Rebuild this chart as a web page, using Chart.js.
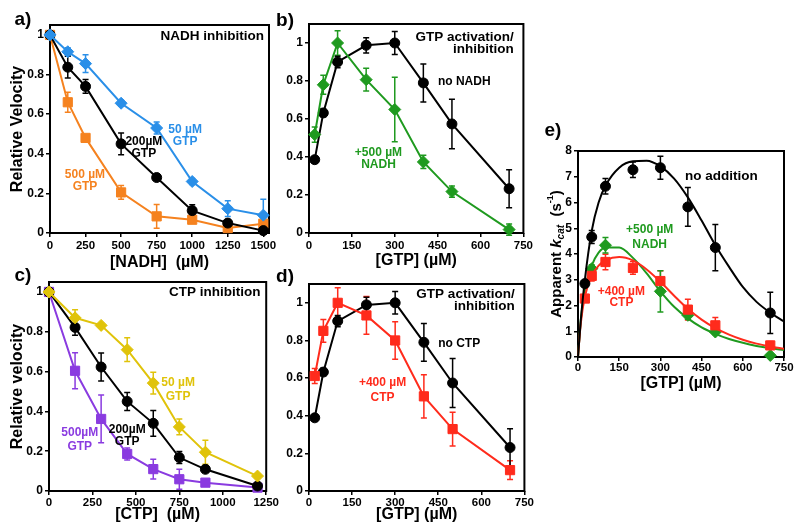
<!DOCTYPE html>
<html>
<head>
<meta charset="utf-8">
<script src="https://cdn.jsdelivr.net/npm/chart.js@4.4.0/dist/chart.umd.min.js"></script>
<style>
body { margin: 0; background: #fff; }
#wrap { position: relative; width: 800px; height: 531px; overflow: hidden; }
canvas { position: absolute; }
</style>
</head>
<body>
<div id="wrap">
<canvas id="chartA" width="280" height="275" style="left:0;top:0"></canvas>
<canvas id="chartB" width="265" height="275" style="left:270px;top:0"></canvas>
<canvas id="chartC" width="280" height="266" style="left:0;top:265px"></canvas>
<canvas id="chartD" width="265" height="266" style="left:270px;top:265px"></canvas>
<canvas id="chartE" width="265" height="280" style="left:530px;top:115px"></canvas>
</div>
<script>
// tick labels
var nadhTicks = [0, 250, 500, 750, 1000, 1250, 1500]
var ctpTicks = [0, 250, 500, 750, 1000, 1250]
var gtpTicks = [0, 150, 300, 450, 600, 750]
var relTicks = [0, 0.2, 0.4, 0.6, 0.8, 1]
var kcatTicks = [0, 1, 2, 3, 4, 5, 6, 7, 8]

// a) NADH inhibition at three GTP levels
var nadhConc = [0, 125, 250, 500, 750, 1000, 1250, 1500]
var a50 = [1, 0.915, 0.855, 0.655, 0.53, 0.26, 0.123, 0.09]
var a50Err = [0, 0.02, 0.045, 0.015, 0.03, 0.015, 0.04, 0.08]
var a200 = [1, 0.837, 0.74, 0.45, 0.28, 0.113, 0.05, 0.012]
var a200Err = [0, 0.055, 0.035, 0.055, 0.015, 0.03, 0.015, 0.01]
var a500 = [1, 0.66, 0.48, 0.205, 0.084, 0.067, 0.025, 0.047]
var a500Err = [0, 0.05, 0.015, 0.035, 0.06, 0.015, 0.015, 0.01]

// b) and d) GTP activation / inhibition
var gtpConc = [20, 50, 100, 200, 300, 400, 500, 700]
var bNoNadh = [0.386, 0.632, 0.9, 0.988, 1.0, 0.79, 0.574, 0.233]
var bNoNadhErr = [0.01, 0.02, 0.03, 0.04, 0.06, 0.1, 0.13, 0.1]
var bNadh = [0.518, 0.78, 1.0, 0.807, 0.65, 0.374, 0.218, 0.018]
var bNadhErr = [0.04, 0.05, 0.065, 0.06, 0.17, 0.035, 0.03, 0.03]
var dNoCtp = [0.389, 0.632, 0.903, 0.989, 1.0, 0.79, 0.574, 0.231]
var dNoCtpErr = [0.01, 0.02, 0.03, 0.04, 0.06, 0.1, 0.13, 0.1]
var dCtp = [0.611, 0.851, 1.0, 0.933, 0.8, 0.503, 0.329, 0.111]
var dCtpErr = [0.04, 0.06, 0.08, 0.1, 0.1, 0.115, 0.09, 0.05]

// c) CTP inhibition at three GTP levels
var ctpConc = [0, 150, 300, 450, 600, 750, 900, 1200]
var c50 = [1, 0.87, 0.832, 0.71, 0.542, 0.322, 0.195, 0.075]
var c50Err = [0, 0.04, 0.01, 0.06, 0.055, 0.04, 0.06, 0.01]
var c200 = [1, 0.822, 0.623, 0.45, 0.34, 0.168, 0.109, 0.025]
var c200Err = [0, 0.04, 0.07, 0.045, 0.065, 0.03, 0.01, 0.01]
var c500 = [1, 0.604, 0.362, 0.186, 0.11, 0.059, 0.042, 0.017]
var c500Err = [0, 0.09, 0.12, 0.03, 0.05, 0.05, 0.01, 0.01]

// e) apparent kcat, points and fitted curves
var eGtp = [25, 50, 100, 200, 300, 400, 500, 700]
var eNone = [2.85, 4.66, 6.63, 7.27, 7.35, 5.83, 4.25, 1.71]
var eNoneErr = [0.1, 0.25, 0.3, 0.3, 0.45, 0.75, 0.9, 0.8]
var eGtpNadh = [50, 100, 300, 400, 500, 700]
var eNadh = [3.43, 4.34, 2.55, 1.62, 0.97, 0.06]
var eNadhErr = [0.15, 0.3, 0.8, 0.15, 0.1, 0.05]
var eCtp = [2.27, 3.15, 3.69, 3.46, 2.95, 1.84, 1.23, 0.45]
var eCtpErr = [0.1, 0.2, 0.3, 0.25, 0.4, 0.4, 0.3, 0.15]
var fitGtp = [0, 10, 25, 50, 75, 100, 150, 200, 250, 300, 350, 400, 450, 500, 550, 600, 650, 700, 750]
var fitNone = [0, 1.4, 3.0, 4.9, 6.0, 6.65, 7.35, 7.6, 7.62, 7.4, 6.93, 6.2, 5.3, 4.34, 3.5, 2.72, 2.14, 1.72, 1.38]
var fitNadh = [0, 1.4, 2.6, 3.55, 4.05, 4.25, 4.25, 3.85, 3.25, 2.55, 1.95, 1.5, 1.15, 0.9, 0.7, 0.55, 0.43, 0.34, 0.27]
var fitCtp = [0, 1.3, 2.35, 3.15, 3.55, 3.75, 3.88, 3.75, 3.4, 2.92, 2.38, 1.87, 1.45, 1.12, 0.87, 0.67, 0.52, 0.41, 0.32]

var blue = '#2a8fe8', orange = '#f5821f', green = '#1f9a1f', yellow = '#e0c30a', purple = '#8a3be0', red = '#ff2b1c', black = '#000'
var family = "'Liberation Sans', Arial, sans-serif"

Chart.defaults.font.family = family
Chart.defaults.font.weight = 'bold'
Chart.defaults.font.size = 12
Chart.defaults.color = '#000'

function pts(xs, ys) {
	return xs.map(function (x, i) { return { x: x, y: ys[i] } })
}

function series(xs, ys, errs, color, style, radius) {
	return {
		data: pts(xs, ys),
		errors: errs,
		borderColor: color,
		backgroundColor: color,
		borderWidth: 2,
		pointStyle: style,
		pointRadius: radius,
		pointBorderWidth: 1,
		tension: 0,
		clip: false,
	}
}

function fit(xs, ys, color) {
	return {
		data: pts(xs, ys),
		borderColor: color,
		borderWidth: 2,
		pointRadius: 0,
		cubicInterpolationMode: 'monotone',
		clip: false,
	}
}

function tickGrid() {
	return { display: true, drawOnChartArea: false, drawTicks: true, tickLength: 4, color: '#000', lineWidth: 1.5 }
}

function fixedTicks(list) {
	return function (s) { s.ticks = list.map(function (v) { return { value: v } }) }
}

function plain(v) { return String(v) }

function xAxis(max, list, title, h, pb, tp) {
	return {
		type: 'linear', min: 0, max: max,
		afterBuildTicks: fixedTicks(list),
		ticks: { padding: tp, maxRotation: 0, autoSkip: false, font: { size: 11.5 }, callback: plain },
		grid: tickGrid(),
		border: { display: false },
		title: { display: true, text: title, font: { size: 16, weight: 'bold' }, padding: { top: 0, bottom: pb } },
		afterFit: function (s) { s.height = h },
	}
}

function yAxis(max, list, title, w, pt) {
	return {
		min: 0, max: max,
		afterBuildTicks: fixedTicks(list),
		ticks: { padding: 2, autoSkip: false, callback: plain },
		grid: tickGrid(),
		border: { display: false },
		title: { display: !!title, text: title, font: { size: 16, weight: 'bold' }, padding: { top: pt, bottom: 0 } },
		afterFit: function (s) { s.width = w },
	}
}

// frame, error bars, panel letter and inline labels
function panelPlugin(letter, notes, extra) {
	return {
		id: 'panel',
		beforeDatasetsDraw: function (chart) {
			var ctx = chart.ctx, a = chart.chartArea, ys = chart.scales.y
			ctx.save()
			ctx.lineWidth = 2
			ctx.strokeStyle = '#000'
			ctx.strokeRect(a.left, a.top, a.right - a.left, a.bottom - a.top)
			chart.data.datasets.forEach(function (ds, i) {
				if (!ds.errors) return
				var meta = chart.getDatasetMeta(i)
				ctx.strokeStyle = ds.borderColor
				ctx.lineWidth = 1.5
				meta.data.forEach(function (pt, j) {
					var e = ds.errors[j]
					if (!e) return
					var v = ds.data[j].y
					var t = ys.getPixelForValue(v + e), b = ys.getPixelForValue(v - e)
					ctx.beginPath()
					ctx.moveTo(pt.x, t); ctx.lineTo(pt.x, b)
					ctx.moveTo(pt.x - 3, t); ctx.lineTo(pt.x + 3, t)
					ctx.moveTo(pt.x - 3, b); ctx.lineTo(pt.x + 3, b)
					ctx.stroke()
				})
			})
			ctx.restore()
		},
		afterDraw: function (chart) {
			var ctx = chart.ctx
			ctx.save()
			ctx.textBaseline = 'middle'
			ctx.textAlign = 'center'
			ctx.fillStyle = '#000'
			ctx.font = 'bold 19px ' + family
			ctx.fillText(letter[0], letter[1], letter[2])
			notes.forEach(function (n) {
				var px = chart.scales.x.getPixelForValue(n.x), py = chart.scales.y.getPixelForValue(n.y)
				ctx.fillStyle = n.color || '#000'
				ctx.textAlign = n.align || 'center'
				ctx.font = 'bold ' + (n.size || 12) + 'px ' + family
				n.text.forEach(function (t, k) { ctx.fillText(t, px, py + k * (n.lh || 12)) })
			})
			if (extra) extra(ctx)
			ctx.restore()
		},
	}
}

function makeChart(id, datasets, scales, padding, plugin) {
	return new Chart(document.getElementById(id), {
		type: 'line',
		data: { datasets: datasets },
		options: {
			responsive: false,
			animation: false,
			layout: { padding: padding },
			plugins: { legend: { display: false }, tooltip: { enabled: false } },
			scales: scales,
		},
		plugins: [plugin],
	})
}

makeChart('chartA', [
	series(nadhConc, a50, a50Err, blue, 'rectRot', 6),
	series(nadhConc, a200, a200Err, black, 'circle', 5),
	series(nadhConc, a500, a500Err, orange, 'rect', 6.5),
], {
	x: xAxis(1540, nadhTicks, '[NADH]  (µM)', 42, 3, 2),
	y: yAxis(1.05, relTicks, 'Relative Velocity', 50, 8),
}, { left: 0, top: 25, right: 11, bottom: 0 }, panelPlugin(['a)', 23, 20], [
	{ text: ['NADH inhibition'], x: 1505, y: 0.995, align: 'right', size: 13.5 },
	{ text: ['50 µM', 'GTP'], x: 950, y: 0.52, color: blue },
	{ text: ['200µM', 'GTP'], x: 660, y: 0.46 },
	{ text: ['500 µM', 'GTP'], x: 246, y: 0.293, color: orange },
]))

makeChart('chartB', [
	series(gtpConc, bNadh, bNadhErr, green, 'rectRot', 6),
	series(gtpConc, bNoNadh, bNoNadhErr, black, 'circle', 5),
], {
	x: xAxis(750, gtpTicks, '[GTP] (µM)', 42, 5, 2),
	y: yAxis(1.1, relTicks, '', 39, 0),
}, { left: 0, top: 24, right: 4, bottom: 0 }, panelPlugin(['b)', 15, 21], [
	{ text: ['GTP activation/', 'inhibition'], x: 716, y: 1.03, align: 'right', size: 13.5, lh: 12 },
	{ text: ['no NADH'], x: 543, y: 0.795 },
	{ text: ['+500 µM', 'NADH'], x: 243, y: 0.421, color: green },
]))

makeChart('chartC', [
	series(ctpConc, c50, c50Err, yellow, 'rectRot', 6),
	series(ctpConc, c200, c200Err, black, 'circle', 5),
	series(ctpConc, c500, c500Err, purple, 'rect', 6.5),
], {
	x: xAxis(1250, ctpTicks, '[CTP]  (µM)', 40, 7, 1),
	y: yAxis(1.05, relTicks, 'Relative velocity', 49, 8),
}, { left: 0, top: 17, right: 11, bottom: 0 }, panelPlugin(['c)', 23, 11], [
	{ text: ['CTP inhibition'], x: 1217, y: 1.0, align: 'right', size: 13.5 },
	{ text: ['50 µM', 'GTP'], x: 743, y: 0.543, color: yellow, lh: 14 },
	{ text: ['200µM', 'GTP'], x: 450, y: 0.307 },
	{ text: ['500µM', 'GTP'], x: 177, y: 0.291, color: purple, lh: 14 },
]))

makeChart('chartD', [
	series(gtpConc, dCtp, dCtpErr, red, 'rect', 6.5),
	series(gtpConc, dNoCtp, dNoCtpErr, black, 'circle', 5),
], {
	x: xAxis(750, gtpTicks, '[GTP] (µM)', 40, 7, 1),
	y: yAxis(1.1, relTicks, '', 39, 0),
}, { left: 0, top: 19, right: 4, bottom: 0 }, panelPlugin(['d)', 15, 12], [
	{ text: ['GTP activation/', 'inhibition'], x: 716, y: 1.048, align: 'right', size: 13.5, lh: 12 },
	{ text: ['no CTP'], x: 523, y: 0.783 },
	{ text: ['+400 µM', 'CTP'], x: 256, y: 0.577, color: red, lh: 15 },
]))

function kcatTitle(ctx) {
	var parts = [
		{ t: 'Apparent ', f: 'bold 15px ', dy: 0 },
		{ t: 'k', f: 'italic bold 15px ', dy: 0 },
		{ t: 'cat', f: 'italic bold 10px ', dy: 4 },
		{ t: '  (s', f: 'bold 15px ', dy: 0 },
		{ t: '-1', f: 'bold 9px ', dy: -6 },
		{ t: ')', f: 'bold 15px ', dy: 0 },
	]
	ctx.fillStyle = '#000'
	ctx.textAlign = 'left'
	ctx.textBaseline = 'middle'
	var w = 0
	parts.forEach(function (p) { ctx.font = p.f + family; w += ctx.measureText(p.t).width })
	ctx.translate(27, 139)
	ctx.rotate(-Math.PI / 2)
	var x = -w / 2
	parts.forEach(function (p) {
		ctx.font = p.f + family
		ctx.fillText(p.t, x, p.dy)
		x += ctx.measureText(p.t).width
	})
}

var eBlack = series(eGtp, eNone, eNoneErr, black, 'circle', 5)
var eGreen = series(eGtpNadh, eNadh, eNadhErr, green, 'rectRot', 6)
var eRed = series(eGtp, eCtp, eCtpErr, red, 'rect', 6.5)
eBlack.showLine = false
eGreen.showLine = false
eRed.showLine = false

makeChart('chartE', [
	eBlack,
	fit(fitGtp, fitNone, black),
	eRed,
	fit(fitGtp, fitCtp, red),
	eGreen,
	fit(fitGtp, fitNadh, green),
], {
	x: xAxis(750, gtpTicks, '[GTP] (µM)', 38, 2, 0),
	y: yAxis(8, kcatTicks, '', 48, 0),
}, { left: 0, top: 36, right: 11, bottom: 0 }, panelPlugin(['e)', 23, 16], [
	{ text: ['no addition'], x: 522, y: 7.03, size: 13.5 },
	{ text: ['+500 µM', 'NADH'], x: 261, y: 4.93, color: green, lh: 15 },
	{ text: ['+400 µM', 'CTP'], x: 158, y: 2.52, color: red, lh: 11 },
], kcatTitle))
</script>
</body>
</html>
